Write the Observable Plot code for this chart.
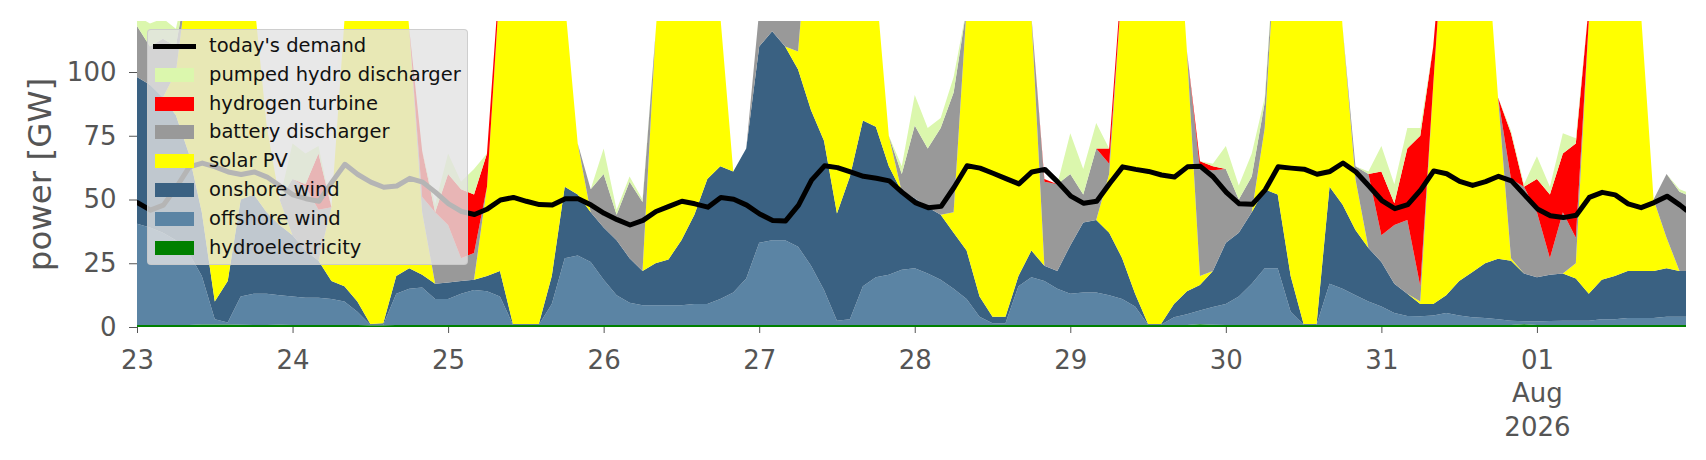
<!DOCTYPE html>
<html>
<head>
<meta charset="utf-8">
<script src="https://cdn.jsdelivr.net/npm/d3@7"></script>
<script src="https://cdn.jsdelivr.net/npm/@observablehq/plot@0.6"></script>
<style>
  html, body { margin: 0; padding: 0; background: #fff; }
  #wrap { position: relative; width: 1706px; height: 460px; font-family: "DejaVu Sans", sans-serif; }
  #legend { position: absolute; left: 147px; top: 29px; width: 321px; height: 236px; box-sizing: border-box;
    background: rgba(226,226,226,0.8); border: 1px solid rgba(200,200,200,0.8); border-radius: 4px; }
  .item { position: absolute; left: 0; height: 28px; width: 100%; }
  .item .sw { position: absolute; left: 7px; width: 39px; height: 14px; top: 7px; }
  .item .ln { position: absolute; left: 5px; width: 43px; height: 5px; top: 11.5px; background: #000; }
  .item .tx { position: absolute; left: 61px; top: 0; line-height: 28px; font-size: 19.5px; color: #111; white-space: nowrap; }
</style>
</head>
<body>
<div id="wrap"></div>
<script>
// ---- data (every 2 hours from 23 Jul 2026 00:00, last point 1 Aug 23:00) ----
const startUTC = Date.UTC(2026, 6, 23);
const hours = [...d3.range(0, 240, 2), 239];

const seriesNames = ["hydroelectricity", "offshore wind", "onshore wind", "solar PV",
  "battery discharger", "hydrogen turbine", "pumped hydro discharger"];
const seriesColors = ["#008000", "#5b84a4", "#3a6182", "#ffff00", "#999999", "#ff0000", "#dbf7ad"];

const hydro = [
  .8,.8,.8,.8,.8,1,1,1,.9,.8,.8,.9,
  .8,.8,.8,.8,.8,.8,.7,.7,.8,.8,.8,.8,
  .8,.8,.8,.8,.8,.8,.8,.8,.8,.8,.8,.8,
  .8,.8,.8,.8,.8,.8,.8,.8,.8,.8,.8,.8,
  .8,.8,.8,.8,.8,.8,.8,.8,.8,.8,.8,.8,
  .8,.8,.8,.8,.8,.8,.8,.8,.8,.8,.8,.8,
  .8,.8,.8,.8,.8,.8,.8,.8,.8,.8,1.1,.9,
  .8,.8,.8,.8,.8,.8,.8,.8,.8,.8,.8,.8,
  .8,.8,.8,.8,.8,.8,.8,.8,.8,.8,.8,1.1,
  .8,.8,.8,.8,.8,.8,.8,.8,.8,.8,.8,.8,
  .8];
const offshore = [
  39.7,38.2,36.2,33.2,28.2,19,2,.8,11.1,12.2,12.2,11.6,
  11.2,10.7,10.7,10.2,9.2,5.2,.2,.2,12.2,14.2,14.7,10.2,
  10.2,12.2,13.7,13.2,11.2,.1,.1,.1,8.2,26.2,27.2,24.7,
  17.7,11.7,8.7,7.7,7.7,7.7,7.7,8.2,8.2,10.2,12.7,18.2,
  32.2,33.2,33.2,30.7,23.2,13.7,1.7,2.2,15.2,18.7,19.7,21.7,
  22.2,20.2,17.7,14.2,10.2,3.2,.7,.7,15.2,18.7,17.2,14.2,
  12.2,12.7,12.7,11.7,10.2,7.2,.1,.1,3,4.2,5.4,6.9,
  8.2,11.2,16.2,22.2,22.2,5.2,.1,.1,16.2,14.2,11.7,9.2,
  7.2,4.7,3.5,3.4,3.7,4.7,3.7,3,2.7,2.2,1.7,1.2,
  1.4,1.6,1.7,1.7,1.7,2.2,2.2,2.7,2.7,2.7,3.2,3.2,
  3.2];
const onshore = [
  57.5,56,53,49,39,25,7,16.2,38,39,32,27.5,
  24,18.5,14.5,7,6,4,.3,.6,7,8,5,6,
  6.5,5,4,6,10,.3,.3,.3,11,28,24,19.5,
  20.5,21.5,17.5,13.5,16.5,18,25.5,35,49,52,47.5,51,
  77,82,76,69.5,61,58.5,42,56,65,59,42.5,30.5,
  27.5,26,25.5,22,19,8,2.5,2.5,4,10.5,6,7,
  19,27.5,28.5,24.5,16,5,.3,.3,5.2,9,10,14.2,
  24,25,28,31,29,14,.3,.3,38,33,25.5,21,
  17.5,11.5,8.7,4.8,4.5,7,13.5,17.7,21.5,23.8,23.5,18.7,
  17.3,18.1,18.5,16.5,10.5,15.5,17,18.5,18.5,18.5,19,18,
  18];
const solar = [
  0,0,0,17,72,135,195,197,140,78,34,10,
  0,0,0,29,104,180,223.8,213.5,155,94,24.5,0,
  0,0,0,35,113,198.8,228.8,223.8,175,73,20,0,
  0,0,0,0,90,153.5,186,186,142,59,0,0,
  0,0,0,7,85,137,185.5,171,124,56.5,12,0,
  0,0,0,8,95,168,211,221,170,92,0,0,
  0,0,0,23,108,182,226.8,230.8,176,94,3.5,0,
  0,0,0,24,113,210,238.8,223.8,145,70,20,0,
  0,0,0,1,86,157.5,192,203.5,135,63.2,1,0,
  0,0,0,6,107,171.5,205,188,103,28,12,0,
  0];
const battery = [
  20,15,23,10,0,0,0,0,0,0,0,0,
  22,25,20,0,0,0,0,0,0,0,6,28,
  22.5,9,10.5,0,0,0,0,0,0,0,0,9,
  21,10,30,27,0,0,0,0,0,0,0,0,
  14,9,15,16,0,0,0,0,0,0,0,7,
  28.5,23,34,47,0,0,0,0,0,0,33,34,
  28,11,28,4,0,0,0,0,0,0,42,39.5,
  29,13,14,10,0,0,0,0,0,0,5,29,
  10.5,23,29,6,0,0,0,0,0,0,31,34,
  25.5,6.5,24,10,0,0,0,0,0,0,25,31,
  30];
const hydrogen = [
  0,0,0,0,0,0,0,0,0,0,0,0,
  0,1,22,0,0,0,0,0,0,0,18,0,
  20,27,23,13,5,0,0,0,0,0,0,0,
  0,0,0,0,0,0,0,0,0,0,0,0,
  0,0,0,0,0,0,0,0,0,0,0,0,
  0,0,0,0,0,0,0,0,0,0,1,0,
  0,0,0,6,5,0,0,0,0,0,3,1.5,
  0,0,0,0,0,0,0,0,0,0,0,0,
  25,8.5,28,59,15,0,0,0,0,0,18,0,
  13,25,23,37,6,0,0,0,0,0,0,0,
  0];
const pumpedHydro = [
  4,9,8,7,0,0,0,0,0,0,0,0,
  14,12,3,0,0,0,0,0,0,0,0,3,
  8,3,10,0,0,0,0,0,0,0,0,0,
  10,2,2,1,0,0,0,0,0,0,0,0,
  0,0,0,0,0,0,0,0,0,0,0,3,
  12,8,4,6,0,0,0,0,0,0,0,0,
  16,10,10,0,0,0,0,0,0,0,0,1,
  9,5.5,9,2,0,0,0,0,0,0,0,1,
  10,7.5,8,3,0,0,0,0,0,0,1,1,
  9,3,8,2,0,0,0,0,0,0,0,1,
  1];
const demand = [
  49,46,48,55,63,64.5,63,61,60,61,59,55.5,
  52,50.5,49.5,57,64,60,57,55,55.5,58.5,57,53,
  48.5,45.5,44.3,46.5,50,51,49.5,48.2,48,50.5,50.5,48,
  44.8,42.3,40.2,42,45.5,47.5,49.5,48.5,47.2,51,50.3,48,
  44.5,42,41.8,48,57.8,63.4,62.7,61,59.3,58.5,57.5,53,
  49,47,47.5,55,63.4,62.5,60.5,58.4,56.3,61,62,57,
  51.5,48.7,49.5,56.5,63,62,61.2,59.8,59,63,63.2,59,
  53,48.5,48.3,54,63,62.5,62.1,60.1,61.2,64.5,61,55.5,
  49.8,46.6,48.2,54,61.4,60.3,57.3,55.7,57.2,59.3,57.5,52,
  46.5,43.8,43.1,44,51,53,52,48.5,47,49,51.5,48,
  46];

const yTicks = [0, 25, 50, 75, 100];
const dayTicks = [23, 24, 25, 26, 27, 28, 29, 30, 31, 32];
const legendOrder = ["today's demand", "pumped hydro discharger", "hydrogen turbine",
  "battery discharger", "solar PV", "onshore wind", "offshore wind", "hydroelectricity"];

// ---- build tables ----
const times = hours.map(h => new Date(startUTC + h * 3600e3));
const seriesValues = [hydro, offshore, onshore, solar, battery, hydrogen, pumpedHydro];
const long = [];
seriesNames.forEach((name, k) => {
  seriesValues[k].forEach((v, i) => long.push({t: times[i], s: name, v}));
});
const demandRows = demand.map((v, i) => ({t: times[i], v}));
const tickDates = dayTicks.map(d => new Date(Date.UTC(2026, 6, d)));

const chart = Plot.plot({
  width: 1706,
  height: 460,
  marginLeft: 137,
  marginRight: 20,
  marginTop: 21,
  marginBottom: 133,
  style: {fontFamily: "DejaVu Sans", background: "white", color: "#555", overflow: "visible"},
  x: {type: "utc", domain: [times[0], times[times.length - 1]]},
  y: {domain: [0, 120]},
  color: {domain: seriesNames, range: seriesColors},
  marks: [
    Plot.areaY(long, {x: "t", y: "v", fill: "s", clip: true}),
    Plot.lineY(demandRows, {x: "t", y: "v", stroke: "black", strokeWidth: 5, clip: true}),
    Plot.axisY({ticks: yTicks, tickSize: 8, tickPadding: 13, label: null, fontSize: 26, stroke: "#555", fill: "#555"}),
    Plot.axisX({ticks: tickDates, tickSize: 6, tickPadding: 11, label: null, fontSize: 26,
      lineHeight: 1.3, stroke: "#555", fill: "#555",
      tickFormat: d => d.getUTCDate() === 1 ? "01\nAug\n2026" : String(d.getUTCDate())}),
    Plot.text(["power [GW]"], {text: d => d, frameAnchor: "left", textAnchor: "middle",
      lineAnchor: "middle", rotate: -90, dx: -97, fontSize: 32.5, fill: "#555"})
  ]
});

const wrap = document.getElementById("wrap");
wrap.appendChild(chart);

// ---- legend overlay ----
const colorOf = Object.fromEntries(seriesNames.map((n, i) => [n, seriesColors[i]]));
const lg = document.createElement("div");
lg.id = "legend";
legendOrder.forEach((name, i) => {
  const it = document.createElement("div");
  it.className = "item";
  it.style.top = (2 + i * 28.8) + "px";
  const h = document.createElement("div");
  if (name === "today's demand") { h.className = "ln"; }
  else { h.className = "sw"; h.style.background = colorOf[name]; }
  const t = document.createElement("div");
  t.className = "tx";
  t.textContent = name;
  it.appendChild(h); it.appendChild(t);
  lg.appendChild(it);
});
wrap.appendChild(lg);
</script>
</body>
</html>
